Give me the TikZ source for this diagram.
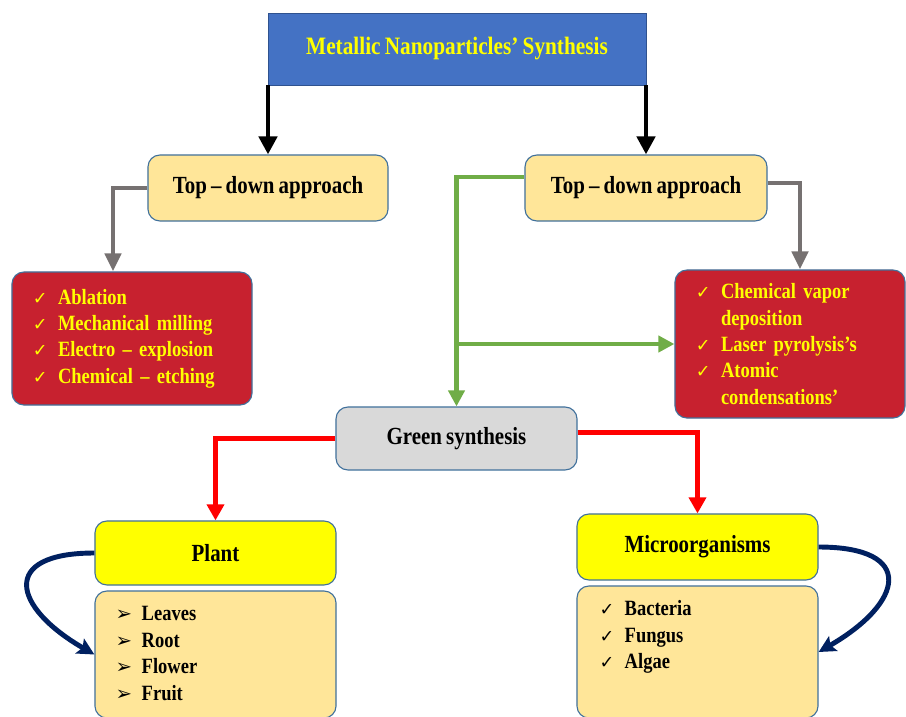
\documentclass[tikz,border=0pt]{standalone}
\usepackage{fontspec}
\setmainfont{Liberation Serif}[FakeStretch=0.85, WordSpace=0.8]
\newfontfamily\symfont{DejaVu Sans}
\usetikzlibrary{arrows.meta}
\definecolor{titleblue}{HTML}{4472C4}
\definecolor{titleedge}{HTML}{2F528F}
\definecolor{boxedge}{HTML}{41719C}
\definecolor{cream}{HTML}{FFE699}
\definecolor{methred}{HTML}{C7212F}
\definecolor{greenbox}{HTML}{D9D9D9}
\definecolor{arrowgray}{HTML}{767171}
\definecolor{arrowgreen}{HTML}{70AD47}
\definecolor{navyblue}{HTML}{002060}
\definecolor{brightyellow}{HTML}{FFFF00}
\newcommand{\tick}{\makebox[17.8pt][l]{\symfont\fontsize{12.5}{12.5}\selectfont ✓}}
\newcommand{\pointer}{\makebox[18.5pt][l]{\symfont\fontsize{14}{14}\selectfont ➢}}
\newcommand{\hang}{\hspace*{17.8pt}}

\begin{document}
\begin{tikzpicture}[
  x=0.025cm, y=-0.025cm,
  box/.style={draw=boxedge, line width=0.8pt, rounded corners=0.3cm, inner sep=0pt,
              font=\fontsize{17.5}{21}\selectfont\bfseries},
  methbox/.style={box, fill=methred, text=brightyellow, align=left, inner xsep=0.525cm,
                  font=\fontsize{15.5}{18.8}\selectfont\bfseries},
  items/.style={inner sep=0pt, align=left, anchor=north west,
                font=\fontsize{15.5}{18.8}\selectfont\bfseries},
  blackarrow/.style={line width=3.5pt, -{Triangle[length=0.45cm, width=0.45cm]}},
  grayarrow/.style={arrowgray, line width=3.5pt, -{Triangle[length=0.45cm, width=0.4cm]}},
  greenarrow/.style={arrowgreen, line width=3pt, -{Triangle[length=0.4cm, width=0.4cm]}},
  redarrow/.style={red, line width=3.5pt, -{Triangle[length=0.4cm, width=0.42cm]}},
  loop/.style={navyblue, line width=3.5pt, -{Stealth[length=0.42cm, width=0.42cm, inset=0.08cm]}},
]
\useasboundingbox (0,0) rectangle (906,716);

\node[draw=titleedge, fill=titleblue, text=brightyellow, minimum width=9.45cm, minimum height=1.8cm,
      font=\fontsize{17.8}{21}\selectfont\bfseries] (title) at (457,49)
  {Metallic Nanoparticles’ Synthesis};

\node[box, fill=cream, minimum width=6cm, minimum height=1.65cm] (tdl) at (268,188) {Top – down approach};
\node[box, fill=cream, minimum width=6.05cm, minimum height=1.65cm] (tdr) at (646,188) {Top – down approach};

\node[methbox, text width=4.95cm, minimum height=3.325cm] (methl) at (132,338.5) {%
  \tick Ablation\\
  \tick Mechanical milling\\
  \tick Electro – explosion\\
  \tick Chemical – etching};
\node[methbox, text width=4.7cm, minimum height=3.7cm] (methr) at (790,344) {%
  \tick Chemical vapor\\
  \hang deposition\\
  \tick Laser pyrolysis’s\\
  \tick Atomic\\
  \hang condensations’};

\node[box, fill=greenbox, minimum width=6.025cm, minimum height=1.575cm] (green) at (456.5,438.5) {Green synthesis};

\node[box, fill=brightyellow, minimum width=6.025cm, minimum height=1.6cm] (plant) at (215.5,553) {Plant};
\node[box, fill=cream, minimum width=6.025cm, minimum height=3.175cm] (plantbox) at (215.5,654.5) {};
\node[items] (plantitems) at ([xshift=0.525cm, yshift=-0.4cm]plantbox.north west) {%
  \pointer Leaves\\
  \pointer Root\\
  \pointer Flower\\
  \pointer Fruit};

\node[box, fill=brightyellow, minimum width=6.025cm, minimum height=1.65cm] (micro) at (697.5,547) {Microorganisms};
\node[box, fill=cream, minimum width=6.025cm, minimum height=3.3cm] (microbox) at (697.5,652) {};
\node[items] (microitems) at ([xshift=0.575cm, yshift=-0.375cm]microbox.north west) {%
  \tick Bacteria\\
  \tick Fungus\\
  \tick Algae};

\draw[blackarrow] (tdl.north |- title.south) -- (tdl.north);
\draw[blackarrow] (tdr.north |- title.south) -- (tdr.north);
\draw[grayarrow] (tdl.west) -| ([xshift=-0.475cm]methl.north);
\draw[grayarrow] ([yshift=0.125cm]tdr.east) -| ([xshift=0.25cm]methr.north);
\draw[greenarrow] ([yshift=0.275cm]tdr.west) -| (green.north);
\draw[greenarrow] (green.north |- methr.west) -- (methr.west);
\draw[redarrow] (green.west) -| (plant.north);
\draw[redarrow] ([yshift=0.15cm]green.east) -| (micro.north);
\draw[loop] (plant.west) to[out=180, in=150, looseness=2.4] (plantbox.west);
\draw[loop] (micro.east) to[out=0, in=30, looseness=2.4] (microbox.east);

\end{tikzpicture}
\end{document}
